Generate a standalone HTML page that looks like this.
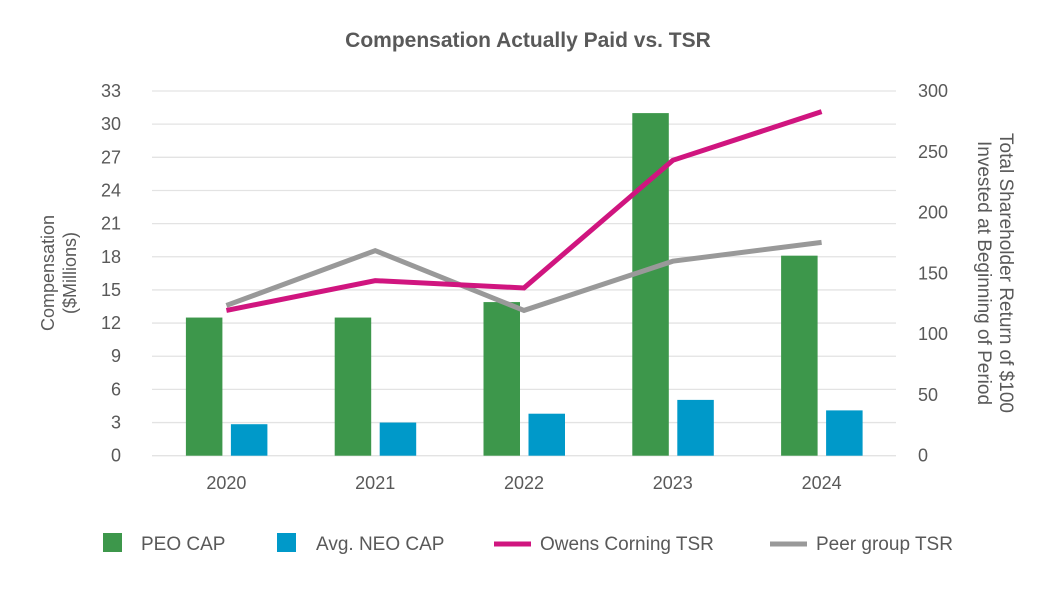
<!DOCTYPE html>
<html><head><meta charset="utf-8"><style>
body{margin:0;background:#fff;font-family:"Liberation Sans",sans-serif}
</style></head><body>
<svg width="1056" height="594" xmlns="http://www.w3.org/2000/svg" font-family="Liberation Sans, sans-serif">
<text x="528" y="47" text-anchor="middle" font-size="21" font-weight="bold" fill="#595959">Compensation Actually Paid vs. TSR</text>
<g id="grid"></g><g id="bars"></g><g id="lines"></g><g id="axes"></g>
<text transform="translate(58,273) rotate(-90)" text-anchor="middle" font-size="18" fill="#595959"><tspan x="0" dy="-4">Compensation</tspan><tspan x="0" dy="22">($Millions)</tspan></text>
<text transform="translate(992,273) rotate(90)" text-anchor="middle" font-size="19" fill="#595959"><tspan x="0" dy="-8">Total Shareholder Return of $100</tspan><tspan x="0" dy="22">Invested at Beginning of Period</tspan></text>
<g font-size="19" fill="#595959">
<rect x="103" y="533" width="19" height="19" fill="#3d974b"/>
<text x="141" y="550">PEO CAP</text>
<rect x="277" y="533" width="19" height="19" fill="#0099c9"/>
<text x="316" y="550">Avg. NEO CAP</text>
<line x1="494" y1="544" x2="531" y2="544" stroke="#d0157f" stroke-width="5"/>
<text x="540" y="550">Owens Corning TSR</text>
<line x1="770" y1="544" x2="807" y2="544" stroke="#999" stroke-width="5"/>
<text x="816" y="550">Peer group TSR</text>
</g>
</svg>
<script>
const categories=["2020","2021","2022","2023","2024"];
const peoCap=[12.5,12.5,13.9,31.0,18.1];
const neoCap=[2.85,3.0,3.8,5.05,4.1];
const ocTsr=[119.5,144,138,243,283];
const peerTsr=[123.6,168.7,119.5,160,175.5];
const leftTicks=[0,3,6,9,12,15,18,21,24,27,30,33];
const rightTicks=[0,50,100,150,200,250,300];
const NS="http://www.w3.org/2000/svg";
const X0=152,X1=896,Y0=455.7,Y1=91;
const yL=v=>Y0-(v/33)*(Y0-Y1);
const yR=v=>Y0-(v/300)*(Y0-Y1);
const band=(X1-X0)/categories.length;
const xc=i=>X0+band*(i+0.5);
function mk(tag,attrs,parent,text){const e=document.createElementNS(NS,tag);for(const k in attrs)e.setAttribute(k,attrs[k]);if(text!==undefined)e.textContent=text;document.getElementById(parent).appendChild(e);return e;}
leftTicks.forEach(t=>{
 const l=mk('line',{x1:X0,x2:X1,y1:yL(t),y2:yL(t),stroke:'#e3e3e3','stroke-width':1.3},'grid');
 
 
 const tx=mk('text',{x:121,y:yL(t)+6,'text-anchor':'end','font-size':18,fill:'#595959'},'axes',String(t));
 
 
});
rightTicks.forEach(t=>{
 const tx=mk('text',{x:918,y:yR(t)+6,'font-size':18,fill:'#595959'},'axes',String(t));
 
 
});
categories.forEach((c,i)=>{
 const tx=mk('text',{x:xc(i),y:489,'text-anchor':'middle','font-size':18,fill:'#595959'},'axes',c);
 
 
 const b1=mk('rect',{x:xc(i)-40.5,y:yL(peoCap[i]),width:36.5,height:Y0-yL(peoCap[i]),fill:'#3d974b'},'bars');
 
 
 const b2=mk('rect',{x:xc(i)+4.5,y:yL(neoCap[i]),width:36.5,height:Y0-yL(neoCap[i]),fill:'#0099c9'},'bars');
 
 
});
const peer=mk('polyline',{points:peerTsr.map((v,i)=>xc(i)+','+yR(v)).join(' '),fill:'none',stroke:'#999','stroke-width':5},'lines');


const oc=mk('polyline',{points:ocTsr.map((v,i)=>xc(i)+','+yR(v)).join(' '),fill:'none',stroke:'#d0157f','stroke-width':5},'lines');


</script>
</body></html>
